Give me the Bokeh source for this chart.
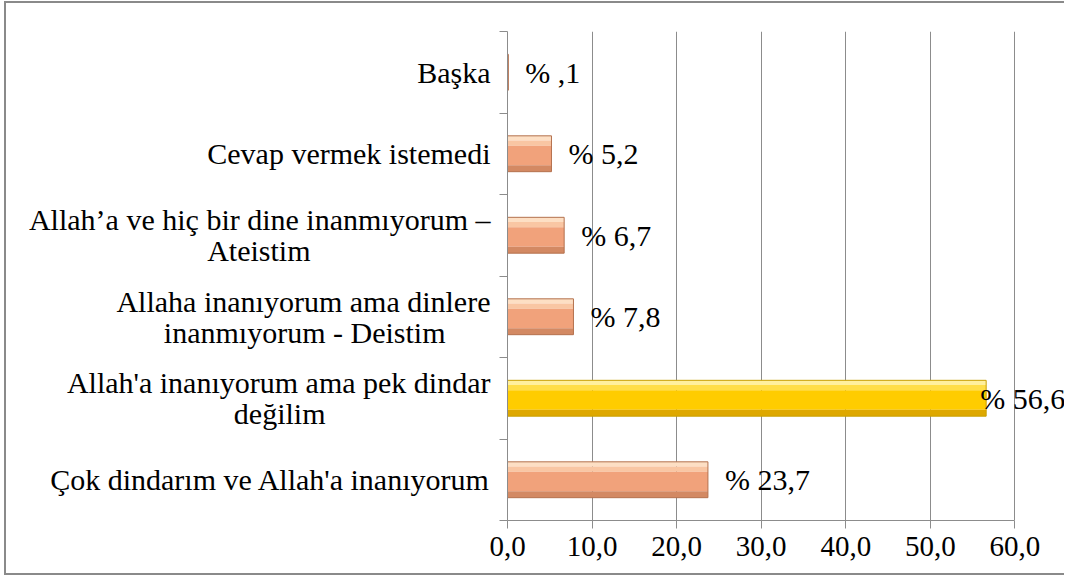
from bokeh.plotting import figure
from bokeh.models import ColumnDataSource, LabelSet, FixedTicker, Range1d
from bokeh.embed import file_html
from bokeh.resources import INLINE

NB = "\u00a0"
categories = [
    "Çok dindarım ve Allah'a inanıyorum",
    "Allah'a inanıyorum ama pek dindar\ndeğilim" + NB * 22,
    "Allaha inanıyorum ama dinlere\ninanmıyorum - Deistim" + NB * 6,
    "Allah’a ve hiç bir dine inanmıyorum –\nAteistim" + NB * 24,
    "Cevap vermek istemedi",
    "Başka",
]
values = [23.7, 56.6, 7.8, 6.7, 5.2, 0.1]
x_ticks = [0, 10, 20, 30, 40, 50, 60]
x_tick_labels = ["0,0", "10,0", "20,0", "30,0", "40,0", "50,0", "60,0"]

FONT = "Liberation Serif"
GRAY = "#8c8c8c"
X_END = 66.1  # visible room to the right of 60 for the data labels


def fmt(v):
    s = f"{v:.1f}".replace(".", ",")
    if s.startswith("0"):
        s = s[1:]
    return "% " + s


n = len(categories)
ypos = [i + 0.5 for i in range(n)]
H = 0.44
is_max = [v == max(values) for v in values]

# shading bands (fraction from top, fraction to top, orange colour, yellow colour)
bands = [
    (0.00, 0.13, "#FDDFC4", "#FFF09E"),
    (0.13, 0.28, "#F9C6A3", "#FFDE48"),
    (0.28, 0.82, "#F1A27B", "#FFCC00"),
    (0.82, 1.00, "#D38963", "#DEA800"),
]

p = figure(width=1060, height=574, output_backend="svg", toolbar_location=None,
           x_range=Range1d(0, X_END), y_range=Range1d(0, n),
           min_border_left=501, min_border_right=0, min_border_top=28,
           min_border_bottom=57)
p.styles = {"margin-left": "4px", "margin-top": "1px",
            "border-top": "2px solid #8a8a8a", "border-left": "2px solid #8a8a8a",
            "border-bottom": "2px solid #8a8a8a"}
p.outline_line_color = None
p.background_fill_color = "white"

p.xgrid.grid_line_color = GRAY
p.xgrid.ticker = FixedTicker(ticks=x_ticks)
p.ygrid.grid_line_color = None

for f0, f1, oc, yc in bands:
    yc_list = [y + H / 2 - H * (f0 + f1) / 2 for y in ypos]
    cols = [yc if m else oc for m in is_max]
    bsrc = ColumnDataSource(dict(y=yc_list, v=values, c=cols))
    p.hbar(y="y", right="v", left=0, height=H * (f1 - f0), source=bsrc,
           fill_color="c", line_color=None)

edge = ["#C9A000" if m else "#B4714E" for m in is_max]
src = ColumnDataSource(dict(
    y=ypos, v=values, edge=edge,
    lab=[fmt(v) for v in values],
    xoff=[-6 if m else 17 for m in is_max],
))
p.hbar(y="y", right="v", left=0, height=H, source=src, fill_color=None,
       line_color="edge", line_width=1)

labels = LabelSet(x="v", y="y", text="lab", source=src, x_offset="xoff",
                  text_baseline="middle", text_align="left",
                  text_font=FONT, text_font_size="30px", text_color="black")
p.add_layout(labels)

# x axis
p.xaxis.ticker = FixedTicker(ticks=x_ticks)
p.xaxis.bounds = (x_ticks[0], x_ticks[-1])
p.xaxis.major_label_overrides = {t: l for t, l in zip(x_ticks, x_tick_labels)}
p.xaxis.major_label_text_font = FONT
p.xaxis.major_label_text_font_size = "29px"
p.xaxis.major_label_text_color = "black"
p.xaxis.major_tick_in = 0
p.xaxis.major_tick_out = 8
p.xaxis.minor_tick_line_color = None
p.xaxis.axis_line_color = GRAY
p.xaxis.major_tick_line_color = GRAY
p.xaxis.major_label_standoff = 8

# y axis: labels at centres, ticks at category boundaries
p.yaxis.ticker = FixedTicker(ticks=ypos, minor_ticks=list(range(n + 1)))
p.yaxis.major_label_overrides = {y: c for y, c in zip(ypos, categories)}
p.yaxis.major_label_text_font = FONT
p.yaxis.major_label_text_font_size = "30px"
p.yaxis.major_label_text_line_height = 0.95
p.yaxis.major_label_text_color = "black"
p.yaxis.major_tick_line_color = None
p.yaxis.minor_tick_in = 0
p.yaxis.minor_tick_out = 8
p.yaxis.minor_tick_line_color = GRAY
p.yaxis.axis_line_color = GRAY
p.yaxis.major_label_standoff = 9

open("out.html", "w").write(file_html(p, INLINE))
